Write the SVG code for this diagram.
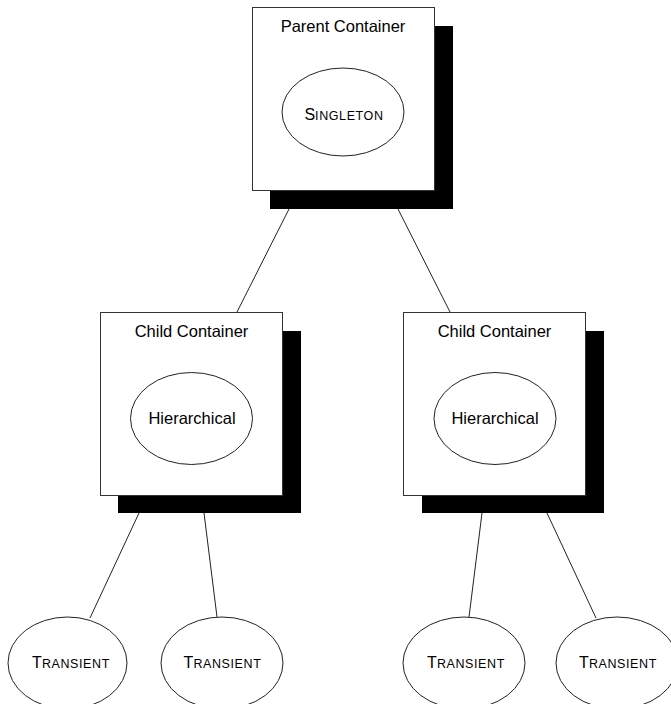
<svg xmlns="http://www.w3.org/2000/svg" width="671" height="704" viewBox="0 0 671 704">
<style>
.box{fill:#fff;stroke:#333;stroke-width:1}
.shadow{fill:#000}
.ell{fill:#fff;stroke:#222;stroke-width:1}
.conn{stroke:#222;stroke-width:1;fill:none}
.t{font-family:"Liberation Sans",Arial,sans-serif;font-size:16.5px;fill:#000;text-anchor:middle}
.big{font-size:16px}
.sm{font-size:12.5px;letter-spacing:0.6px}
</style>
<rect width="671" height="704" fill="#fff"/>
<g id="connectors">
<line class="conn" x1="289" y1="209" x2="237" y2="312"/>
<line class="conn" x1="398" y1="209" x2="450" y2="312"/>
<line class="conn" x1="139" y1="513" x2="90" y2="618"/>
<line class="conn" x1="204" y1="513" x2="217" y2="617"/>
<line class="conn" x1="482" y1="513" x2="469" y2="617"/>
<line class="conn" x1="547" y1="513" x2="596" y2="618"/>
</g>
<g id="parent">
<rect class="shadow" x="270" y="26" width="183" height="183"/>
<rect class="box" x="252.5" y="7.5" width="182" height="183"/>
<text class="t" x="343" y="32">Parent Container</text>
</g>
<g id="singleton">
<ellipse class="ell" cx="343" cy="112" rx="61" ry="44"/>
<text class="t" x="344" y="120"><tspan class="big">S</tspan><tspan class="sm">INGLETON</tspan></text>
</g>
<g id="child-left">
<rect class="shadow" x="118" y="331" width="183" height="182"/>
<rect class="box" x="100.5" y="312.5" width="182" height="183"/>
<text class="t" x="191.5" y="337">Child Container</text>
</g>
<g id="hier-left">
<ellipse class="ell" cx="191.5" cy="418.5" rx="61" ry="46"/>
<text class="t" x="192" y="424">Hierarchical</text>
</g>
<g id="child-right">
<rect class="shadow" x="422" y="331" width="182" height="182"/>
<rect class="box" x="403.5" y="312.5" width="182" height="183"/>
<text class="t" x="494.5" y="337">Child Container</text>
</g>
<g id="hier-right">
<ellipse class="ell" cx="495" cy="418.5" rx="61" ry="46"/>
<text class="t" x="495" y="424">Hierarchical</text>
</g>
<g id="transient-1">
<ellipse class="ell" cx="67.5" cy="663" rx="59.5" ry="46"/>
<text class="t" x="71" y="667.5"><tspan class="big">T</tspan><tspan class="sm">RANSIENT</tspan></text>
</g>
<g id="transient-2">
<ellipse class="ell" cx="222" cy="663" rx="61" ry="46"/>
<text class="t" x="222.5" y="667.5"><tspan class="big">T</tspan><tspan class="sm">RANSIENT</tspan></text>
</g>
<g id="transient-3">
<ellipse class="ell" cx="464" cy="663" rx="61" ry="46"/>
<text class="t" x="466" y="667.5"><tspan class="big">T</tspan><tspan class="sm">RANSIENT</tspan></text>
</g>
<g id="transient-4">
<ellipse class="ell" cx="617" cy="663" rx="61" ry="46"/>
<text class="t" x="618" y="667.5"><tspan class="big">T</tspan><tspan class="sm">RANSIENT</tspan></text>
</g>
</svg>
